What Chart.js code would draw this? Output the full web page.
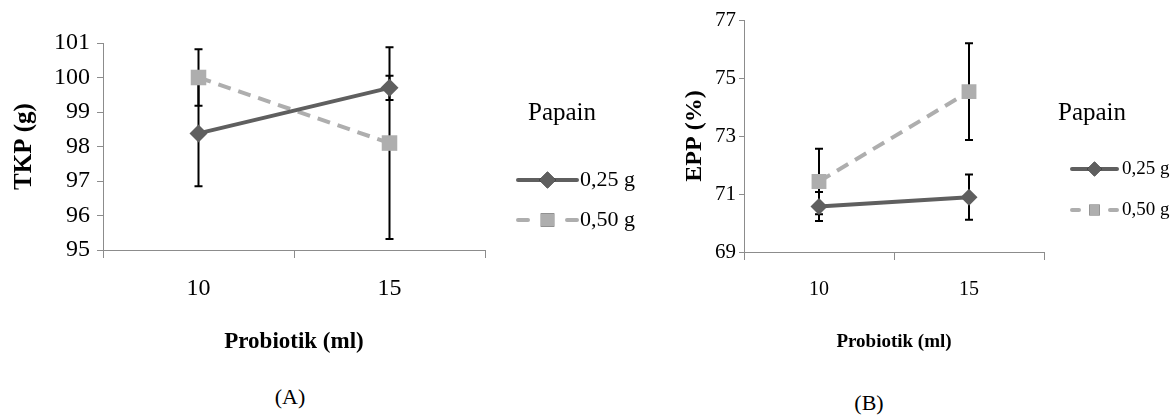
<!DOCTYPE html>
<html>
<head>
<meta charset="utf-8">
<script src="https://cdn.jsdelivr.net/npm/chart.js"></script>
<style>
  body { margin: 0; background: #fff; width: 1173px; height: 416px; position: relative; overflow: hidden; }
  canvas { position: absolute; top: 0; }
  #graficoA { left: 0; }
  #graficoB { left: 640px; }
  .etiqueta { position: absolute; font-family: "Liberation Serif", serif; font-size: 22px; color: #000; transform: translate(-50%, -50%); }
</style>
</head>
<body>
<canvas id="graficoA" width="640" height="370"></canvas>
<canvas id="graficoB" width="533" height="370"></canvas>
<div class="etiqueta" style="left:290px; top:397px;">(A)</div>
<div class="etiqueta" style="left:869px; top:403px;">(B)</div>

<script>
// datos
var probiotik = ['10', '15'];
var seriesNombres = ['0,25 g', '0,50 g'];

// (A) TKP
var tkp025 = [98.38, 99.7];
var tkp050 = [100.0, 98.1];
var tkpErr025 = [1.53, 0.35];
var tkpErr050 = [0.82, 2.78];

// (B) EPP
var epp025 = [70.57, 70.89];
var epp050 = [71.43, 74.53];
var eppErr025 = [0.5, 0.78];
var eppErr050 = [1.13, 1.67];

var colorOscuro = '#5f5f5f';
var colorClaro = '#aeaeae';
var colorEje = '#8c8c8c';
var fuente = '"Liberation Serif", "Times New Roman", serif';

// barras de error (se dibujan antes de las lineas)
var barrasError = {
    id: 'barrasError',
    beforeDatasetsDraw: function(chart) {
        var ctx = chart.ctx;
        var y = chart.scales.y;
        ctx.save();
        ctx.strokeStyle = '#000';
        ctx.lineWidth = 2;
        chart.data.datasets.forEach(function(ds, i) {
            var meta = chart.getDatasetMeta(i);
            meta.data.forEach(function(pt, j) {
                var arriba = y.getPixelForValue(ds.data[j] + ds.errorBars[j]);
                var abajo = y.getPixelForValue(ds.data[j] - ds.errorBars[j]);
                ctx.beginPath();
                ctx.moveTo(pt.x, arriba); ctx.lineTo(pt.x, abajo);
                ctx.moveTo(pt.x - 4, arriba); ctx.lineTo(pt.x + 4, arriba);
                ctx.moveTo(pt.x - 4, abajo); ctx.lineTo(pt.x + 4, abajo);
                ctx.stroke();
            });
        });
        ctx.restore();
    }
};

// leyenda estilo excel: linea + marcador
var leyenda = {
    id: 'leyenda',
    afterDraw: function(chart, args, opts) {
        var ctx = chart.ctx;
        ctx.save();
        ctx.fillStyle = '#000';
        ctx.textBaseline = 'middle';
        ctx.textAlign = 'left';
        ctx.font = opts.tituloSize + 'px ' + fuente;
        ctx.fillText(opts.titulo, opts.tituloX, opts.tituloY);
        chart.data.datasets.forEach(function(ds, i) {
            var yy = opts.filas[i];
            var x0 = opts.lineaX0, x1 = opts.lineaX1, xm = (x0 + x1) / 2;
            ctx.strokeStyle = ds.borderColor;
            ctx.lineWidth = 4;
            ctx.lineCap = 'round';
            ctx.beginPath();
            if (ds.borderDash && ds.borderDash.length) {
                ctx.moveTo(x0, yy); ctx.lineTo(x0 + opts.trazo, yy);
                ctx.moveTo(x1 - opts.trazo, yy); ctx.lineTo(x1, yy);
            } else {
                ctx.moveTo(x0, yy); ctx.lineTo(x1, yy);
            }
            ctx.stroke();
            Chart.helpers.drawPoint(ctx, {
                pointStyle: ds.pointStyle,
                radius: opts.radios[i],
                borderWidth: 0
            }, xm, yy);
            ctx.fillStyle = ds.backgroundColor;
            ctx.fill();
            ctx.fillStyle = '#000';
            ctx.font = opts.textoSize + 'px ' + fuente;
            ctx.fillText(ds.label, opts.textoX, yy);
        });
        ctx.restore();
    }
};

function crearGrafico(id, datos025, datos050, err025, err050, cfg) {
    var ctx = document.getElementById(id).getContext('2d');
    return new Chart(ctx, {
        type: 'line',
        data: {
            labels: probiotik,
            datasets: [{
                label: seriesNombres[0],
                data: datos025,
                errorBars: err025,
                borderColor: colorOscuro,
                backgroundColor: colorOscuro,
                borderWidth: 4,
                pointStyle: 'rectRot',
                pointRadius: cfg.radioRombo,
                pointBorderWidth: 0,
                fill: false
            }, {
                label: seriesNombres[1],
                data: datos050,
                errorBars: err050,
                borderColor: colorClaro,
                backgroundColor: colorClaro,
                borderWidth: 4,
                borderDash: [13, 8],
                pointStyle: 'rect',
                pointRadius: cfg.radioCuadro,
                pointBorderWidth: 0,
                fill: false
            }]
        },
        options: {
            responsive: false,
            maintainAspectRatio: false,
            animation: false,
            layout: { padding: cfg.padding },
            plugins: {
                legend: { display: false },
                tooltip: { enabled: false },
                leyenda: cfg.leyenda
            },
            scales: {
                x: {
                    type: 'category',
                    offset: true,
                    afterFit: function(s) { s.height = cfg.altoX; },
                    grid: { offset: true, drawOnChartArea: false, tickLength: 8, color: colorEje },
                    border: { color: colorEje },
                    ticks: { color: '#000', padding: cfg.padTickX, font: { family: fuente, size: cfg.tickX } },
                    title: {
                        display: true,
                        text: 'Probiotik (ml)',
                        color: '#000',
                        padding: { top: 0, bottom: cfg.padTituloX },
                        font: { family: fuente, size: cfg.tituloX, weight: 'bold' }
                    }
                },
                y: {
                    min: cfg.min,
                    max: cfg.max,
                    afterFit: function(s) { s.width = cfg.anchoY; },
                    grid: { drawOnChartArea: false, tickLength: cfg.tickLargoY, color: colorEje },
                    border: { color: colorEje },
                    ticks: { stepSize: cfg.paso, color: '#000', padding: cfg.padTickY, font: { family: fuente, size: cfg.tickY } },
                    title: {
                        display: true,
                        text: cfg.tituloYTexto,
                        color: '#000',
                        padding: { top: 0, bottom: 0 },
                        font: { family: fuente, size: cfg.tituloY, weight: 'bold' }
                    }
                }
            }
        },
        plugins: [barrasError, leyenda]
    });
}

function dibujar() {
    crearGrafico('graficoA', tkp025, tkp050, tkpErr025, tkpErr050, {
        padding: { left: 10, top: 43, right: 155, bottom: 0 },
        anchoY: 93, altoX: 120,
        min: 95, max: 101, paso: 1,
        tickX: 24, tickY: 24, padTickX: 16, padTickY: 7, tickLargoY: 6,
        tituloX: 23, padTituloX: 14, tituloY: 25, tituloYTexto: 'TKP (g)',
        radioRombo: 9, radioCuadro: 11,
        leyenda: {
            titulo: 'Papain', tituloX: 528, tituloY: 113, tituloSize: 25,
            lineaX0: 518, lineaX1: 577, trazo: 10, filas: [180, 220],
            radios: [8.5, 9.5], textoX: 580, textoSize: 22
        }
    });

    crearGrafico('graficoB', epp025, epp050, eppErr025, eppErr050, {
        padding: { left: 40, top: 20, right: 129, bottom: 0 },
        anchoY: 64, altoX: 118,
        min: 69, max: 77, paso: 2,
        tickX: 20, tickY: 21, padTickX: 18, padTickY: 3, tickLargoY: 5,
        tituloX: 19, padTituloX: 17, tituloY: 24, tituloYTexto: 'EPP (%)',
        radioRombo: 8.5, radioCuadro: 10.5,
        leyenda: {
            titulo: 'Papain', tituloX: 418, tituloY: 113, tituloSize: 25,
            lineaX0: 432, lineaX1: 477, trazo: 7, filas: [169, 210],
            radios: [7.5, 7.5], textoX: 482, textoSize: 19
        }
    });
}

Promise.all([
    document.fonts.load('20px "Liberation Serif"'),
    document.fonts.load('bold 20px "Liberation Serif"')
]).then(dibujar, dibujar);
</script>
</body>
</html>
